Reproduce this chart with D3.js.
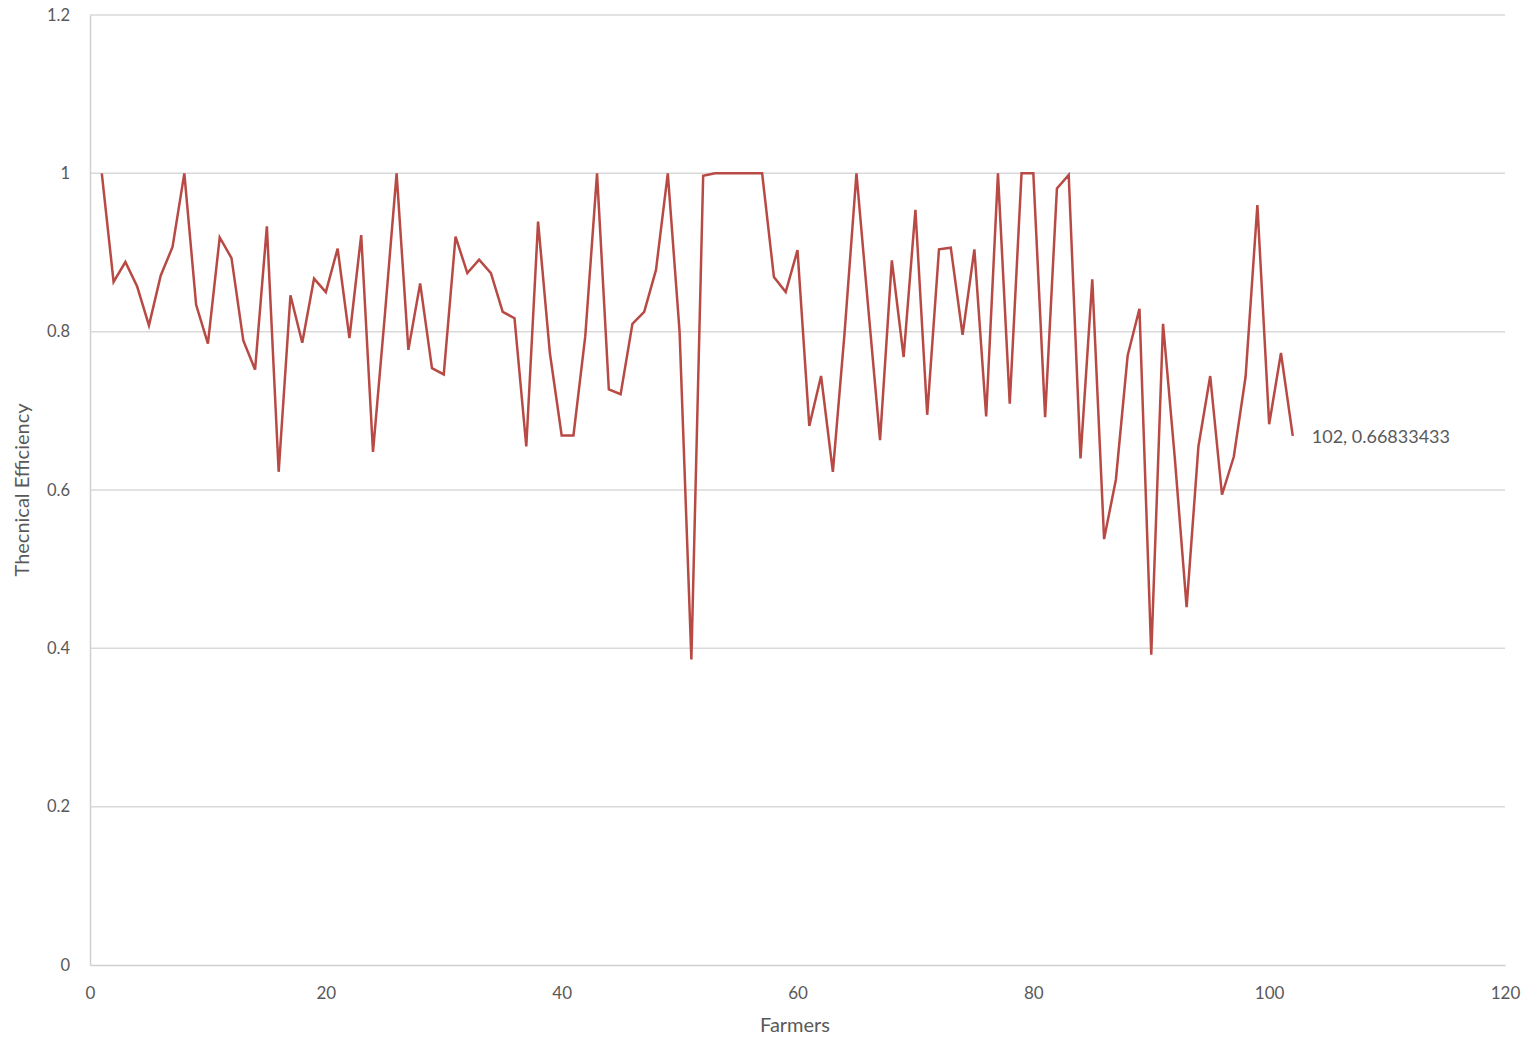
<!DOCTYPE html>
<html>
<head>
<meta charset="utf-8">
<script src="https://cdn.jsdelivr.net/npm/d3@7"></script>
<style>
html,body{margin:0;padding:0;background:#fff;}
svg{display:block;}
</style>
</head>
<body>
<svg id="chart" width="1535" height="1051"></svg>
<script>
const farmers = d3.range(1, 103);
const efficiency = [
  1.0, 0.863, 0.888, 0.857, 0.808, 0.871, 0.907, 1.0, 0.834, 0.785,
  0.919, 0.893, 0.789, 0.752, 0.933, 0.623, 0.846, 0.786, 0.867, 0.850,
  0.905, 0.792, 0.922, 0.648, 0.820, 1.0, 0.777, 0.861, 0.754, 0.746,
  0.920, 0.874, 0.891, 0.874, 0.825, 0.817, 0.655, 0.939, 0.773, 0.669,
  0.669, 0.794, 1.0, 0.727, 0.721, 0.810, 0.825, 0.878, 1.0, 0.800,
  0.386, 0.997, 1.0, 1.0, 1.0, 1.0, 1.0, 0.869, 0.850, 0.903,
  0.681, 0.744, 0.623, 0.800, 1.0, 0.830, 0.663, 0.890, 0.768, 0.954,
  0.695, 0.904, 0.906, 0.796, 0.904, 0.693, 1.0, 0.709, 1.0, 1.0,
  0.692, 0.981, 0.998, 0.640, 0.866, 0.538, 0.613, 0.770, 0.829, 0.392,
  0.810, 0.640, 0.452, 0.655, 0.744, 0.594, 0.642, 0.743, 0.960, 0.683,
  0.773, 0.66833433
];
const xTicks = [0, 20, 40, 60, 80, 100, 120];
const yTicks = [0, 0.2, 0.4, 0.6, 0.8, 1, 1.2];
const xTitle = "Farmers";
const yTitle = "Thecnical Efficiency";

(function () {
  const svg = d3.select("#chart");
  const mL = 90, mR = 1505, mT = 15, mB = 965;
  const x = d3.scaleLinear().domain([0, 120]).range([mL, mR]);
  const y = d3.scaleLinear().domain([0, 1.2]).range([mB, mT]);
  const font = "Lato, 'Open Sans', sans-serif";
  const textColor = "#595959";

  // gridlines
  svg.append("g").selectAll("line").data(yTicks.filter(d => d > 0)).join("line")
    .attr("x1", mL).attr("x2", mR)
    .attr("y1", d => y(d)).attr("y2", d => y(d))
    .attr("stroke", "#d9d9d9").attr("stroke-width", 1.5);

  // axes
  const yAxis = svg.append("g").attr("transform", `translate(${mL},0)`)
    .call(d3.axisLeft(y).tickValues(yTicks).tickSize(0).tickPadding(20)
      .tickFormat(d => d3.format("~g")(d)));
  yAxis.select(".domain").attr("stroke", "#d0d0d0").attr("stroke-width", 1.5);
  yAxis.selectAll("text").attr("font-family", font).attr("font-size", 16.5).attr("fill", textColor);

  const xAxis = svg.append("g").attr("transform", `translate(0,${mB})`)
    .call(d3.axisBottom(x).tickValues(xTicks).tickSize(0).tickPadding(22));
  xAxis.select(".domain").attr("stroke", "#d0d0d0").attr("stroke-width", 1.5);
  xAxis.selectAll("text").attr("font-family", font).attr("font-size", 17).attr("fill", textColor);

  // line
  const line = d3.line().x((d, i) => x(farmers[i])).y(d => y(d));
  svg.append("path").datum(efficiency)
    .attr("d", line)
    .attr("fill", "none")
    .attr("stroke", "#b84a45")
    .attr("stroke-width", 2.5)
    .attr("stroke-linejoin", "miter");

  // data label on last point
  const lastI = efficiency.length - 1;
  svg.append("text")
    .attr("x", x(farmers[lastI]) + 19)
    .attr("y", y(efficiency[lastI]) + 7)
    .attr("font-family", font).attr("font-size", 18).attr("fill", textColor)
    .text(`${farmers[lastI]}, ${efficiency[lastI]}`);

  // titles
  svg.append("text")
    .attr("x", 795).attr("y", 1032)
    .attr("text-anchor", "middle")
    .attr("font-family", font).attr("font-size", 20).attr("fill", textColor)
    .text(xTitle);
  svg.append("text")
    .attr("transform", `translate(29,490) rotate(-90)`)
    .attr("text-anchor", "middle")
    .attr("font-family", font).attr("font-size", 20).attr("fill", textColor)
    .text(yTitle);
})();
</script>
</body>
</html>
